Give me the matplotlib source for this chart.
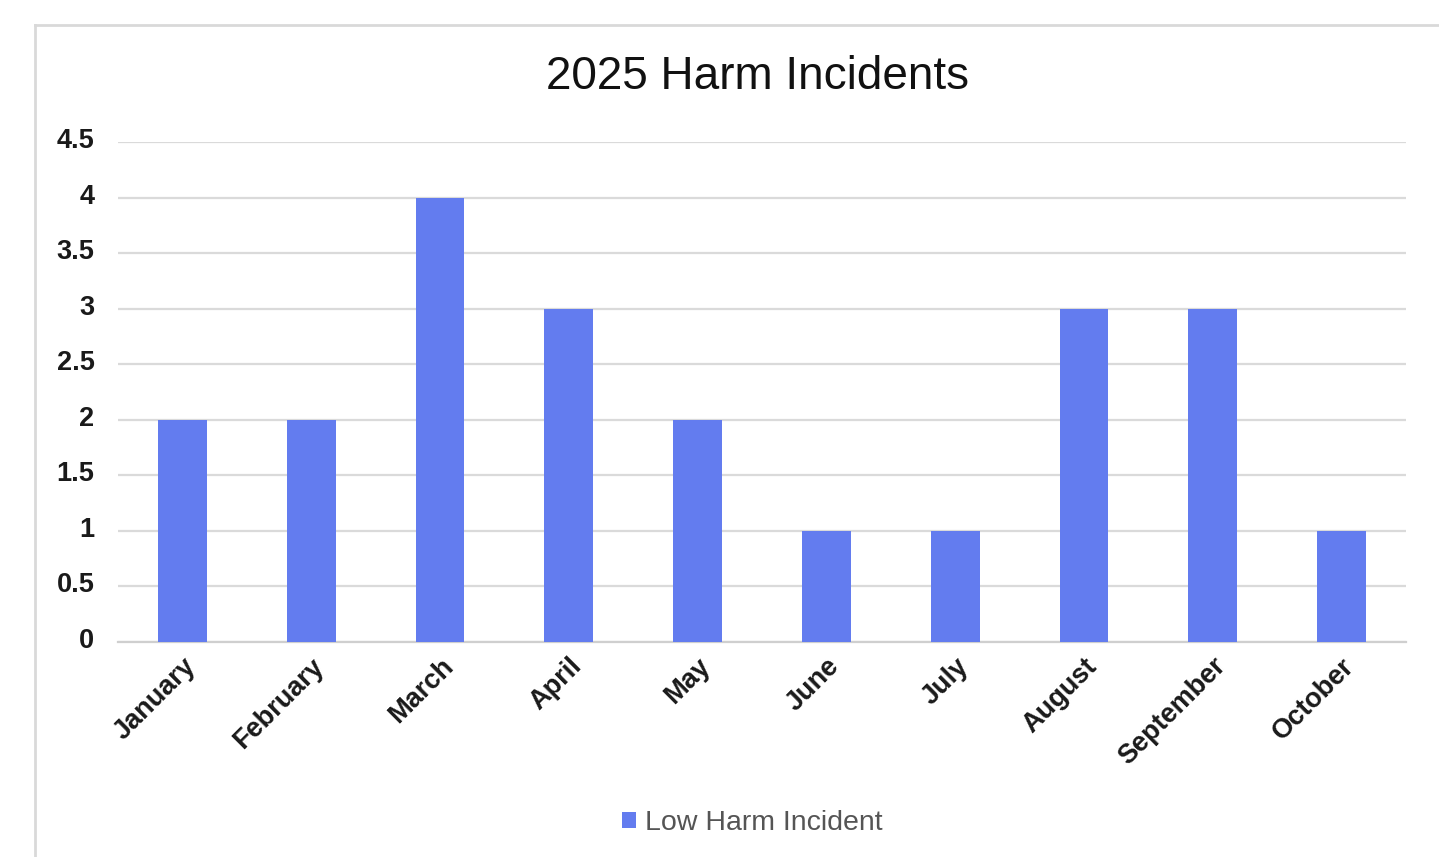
import matplotlib
matplotlib.use("Agg")
import matplotlib.pyplot as plt
from matplotlib.lines import Line2D
from matplotlib.patches import Patch
from matplotlib.transforms import ScaledTranslation

months = ["January", "February", "March", "April", "May", "June", "July",
          "August", "September", "October"]
low_harm = [2, 2, 4, 3, 2, 1, 1, 3, 3, 1]
yticks = [0, 0.5, 1, 1.5, 2, 2.5, 3, 3.5, 4, 4.5]
ytick_labels = ["0", "0.5", "1", "1.5", "2", "2.5", "3", "3.5", "4", "4.5"]

plt.rcParams['font.family'] = ['Liberation Sans', 'DejaVu Sans']

W, H = 1439, 857
fig = plt.figure(figsize=(W / 100, H / 100), dpi=100)
fig.patch.set_facecolor("white")

# outer border (partial frame visible in reference)
fig.add_artist(Line2D([35 / W, 35 / W], [0, 1 - 25 / H], transform=fig.transFigure,
                      color="#d9d9d9", lw=2))
fig.add_artist(Line2D([35 / W, 1], [1 - 25 / H, 1 - 25 / H], transform=fig.transFigure,
                      color="#d9d9d9", lw=2))

ax = fig.add_axes([118 / W, 1 - 642 / H, (1406 - 118) / W, (642 - 142) / H])
bar_color = "#637cef"
x = list(range(len(months)))
ax.bar(x, low_harm, width=0.38, color=bar_color, zorder=3)

ax.set_xlim(-0.5, len(months) - 0.5)
ax.set_ylim(0, 4.5)
ax.set_yticks(yticks)
ax.set_yticklabels(ytick_labels, fontsize=19.5, fontweight="bold", color="#1a1a1a")
ax.set_xticks(x)
ax.set_xticklabels(months, rotation=45, ha="right", va="top",
                   rotation_mode="anchor", fontsize=19.5, fontweight="bold",
                   color="#1a1a1a")
ax.tick_params(axis="both", length=0)
ax.tick_params(axis="y", pad=17)
ax.tick_params(axis="x", pad=8)

up = ScaledTranslation(0, 4 / 100, fig.dpi_scale_trans)
for lbl in ax.get_yticklabels():
    lbl.set_transform(lbl.get_transform() + up)

ax.yaxis.grid(True, color="#dadada", lw=1.6, zorder=0)
ax.set_axisbelow(True)
for s in ["top", "right", "left"]:
    ax.spines[s].set_visible(False)
ax.spines["bottom"].set_color("#cfcfcf")
ax.spines["bottom"].set_linewidth(1.6)

fig.text(758 / W, 1 - 77 / H, "2025 Harm Incidents", ha="center", va="center",
         fontsize=33, color="#111111")

handle = Patch(facecolor=bar_color, edgecolor="none", label="Low Harm Incident")
fig.legend(handles=[handle], loc="center", bbox_to_anchor=(752 / W, 1 - 823 / H),
           frameon=False, fontsize=20.5, labelcolor="#555555",
           handlelength=0.5, handleheight=0.5, handletextpad=0.3)

fig.savefig("out.png", dpi=100)
